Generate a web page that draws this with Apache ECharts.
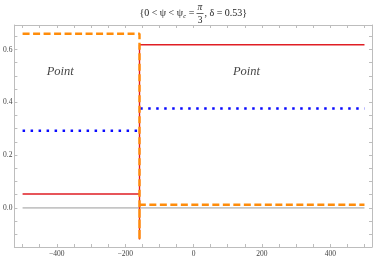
<!DOCTYPE html>
<html><head><meta charset="utf-8">
<script src="https://cdn.jsdelivr.net/npm/echarts@6/dist/echarts.min.js"></script>
<style>html,body{margin:0;padding:0;background:#fff}#c{width:374px;height:258px}</style>
</head><body><div id="c"></div>
<script>
// ---- data ----
const zeroX = [-500, 500];
const zeroY = [0, 0];
const redX = [-500, -158, -158, -158, 500];
const redY = [0.053, 0.053, -0.12, 0.618, 0.618];
const orangeX = [-500, -158, -158, -158, 500];
const orangeY = [0.66, 0.66, -0.12, 0.012, 0.012];
const blueLeftX = [-500, -161];
const blueLeftY = [0.292, 0.292];
const blueRightX = [-156, 500];
const blueRightY = [0.377, 0.377];
const xTickLabels = [-400, -200, 0, 200, 400];
const yTickLabels = [0.0, 0.2, 0.4, 0.6];
const xMinorTicks = [-500,-450,-400,-350,-300,-250,-200,-150,-100,-50,0,50,100,150,200,250,300,350,400,450,500];
const yMinorTicks = [-0.1,-0.05,0,0.05,0.1,0.15,0.2,0.25,0.3,0.35,0.4,0.45,0.5,0.55,0.6,0.65];
const annotations = [{text: 'Point', x: -390, y: 0.517}, {text: 'Point', x: 155, y: 0.517}];
const titleLeft = '{0 < \u03c8 < \u03c8';
const titleSub = 'c';
const titleEq = '=';
const fracNum = '\u03c0';
const fracDen = '3';
const titleRight = ', \u03b4 = 0.53}';

const zip = (a, b) => a.map((v, i) => [v, b[i]]);
const blueData = zip(blueLeftX, blueLeftY).concat([[null, null]], zip(blueRightX, blueRightY));

const serif = '"Liberation Serif", "DejaVu Serif", serif';
const axisCol = '#bdbdbd';
const fmtX = v => (v < 0 ? '\u2212' + Math.abs(v) : String(v));

function xAxisDef(pos, showLabels) {
  return {
    type: 'value', position: pos, min: -524, max: 522,
    axisLine: {show: true, onZero: false, lineStyle: {color: axisCol, width: 1}},
    splitLine: {show: false},
    axisTick: {show: true, inside: true, length: 3, customValues: xMinorTicks, lineStyle: {color: axisCol}},
    axisLabel: {show: showLabels, customValues: xTickLabels, formatter: fmtX, fontFamily: serif, fontSize: 7.5, color: '#444', margin: 3}
  };
}
function yAxisDef(pos, showLabels) {
  return {
    type: 'value', position: pos, min: -0.148, max: 0.693,
    axisLine: {show: true, onZero: false, lineStyle: {color: axisCol, width: 1}},
    splitLine: {show: false},
    axisTick: {show: true, inside: true, length: 3, customValues: yMinorTicks, lineStyle: {color: axisCol}},
    axisLabel: {show: showLabels, customValues: yTickLabels, formatter: v => v.toFixed(1), fontFamily: serif, fontSize: 7.5, color: '#444', margin: 2}
  };
}

const fx = 200, fy = 13.5;
const tfont = '10px ' + serif;

const chart = echarts.init(document.getElementById('c'), null, {renderer: 'canvas'});
chart.setOption({
  animation: false,
  backgroundColor: '#fff',
  grid: {left: 10, right: 2, top: 25, bottom: 9, containLabel: false},
  xAxis: [xAxisDef('bottom', true), xAxisDef('top', false)],
  yAxis: [yAxisDef('left', true), yAxisDef('right', false)],
  series: [
    {type: 'line', data: zip(zeroX, zeroY), symbol: 'none', lineStyle: {color: '#9a9a9a', width: 1}},
    {type: 'line', data: blueData, symbol: 'none', connectNulls: false, lineStyle: {color: '#0a0aff', width: 2.5, type: [2.5, 5.5], cap: 'butt'}},
    {type: 'line', data: zip(redX, redY), symbol: 'none', lineStyle: {color: '#e01e24', width: 1.4}},
    {type: 'line', data: zip(orangeX, orangeY), symbol: 'none', lineStyle: {color: '#ff8c0a', width: 2.4, type: [7, 3.5], cap: 'butt'}},
    {type: 'scatter', data: annotations.map(a => ({value: [a.x, a.y], name: a.text})), symbolSize: 0,
     label: {show: true, position: 'inside', formatter: p => p.name, fontFamily: serif, fontStyle: 'italic', fontSize: 12.5, color: '#111'}}
  ],
  graphic: [
    {type: 'text', x: 183, y: fy, style: {text: titleLeft, font: tfont, fill: '#222', align: 'right', verticalAlign: 'middle'}},
    {type: 'text', x: 183.3, y: fy + 3, style: {text: titleSub, font: 'italic 6.5px ' + serif, fill: '#222', align: 'left', verticalAlign: 'middle'}},
    {type: 'text', x: 191.5, y: fy, style: {text: titleEq, font: tfont, fill: '#222', align: 'center', verticalAlign: 'middle'}},
    {type: 'text', x: fx, y: fy - 6.5, style: {text: fracNum, font: 'italic 9.5px ' + serif, fill: '#222', align: 'center', verticalAlign: 'middle'}},
    {type: 'line', shape: {x1: fx - 3.5, y1: fy, x2: fx + 3.5, y2: fy}, style: {stroke: '#222', lineWidth: 0.7}},
    {type: 'text', x: fx, y: fy + 7, style: {text: fracDen, font: '9.5px ' + serif, fill: '#222', align: 'center', verticalAlign: 'middle'}},
    {type: 'text', x: fx + 4.5, y: fy, style: {text: titleRight, font: tfont, fill: '#222', align: 'left', verticalAlign: 'middle'}}
  ]
});
</script>
</body></html>
